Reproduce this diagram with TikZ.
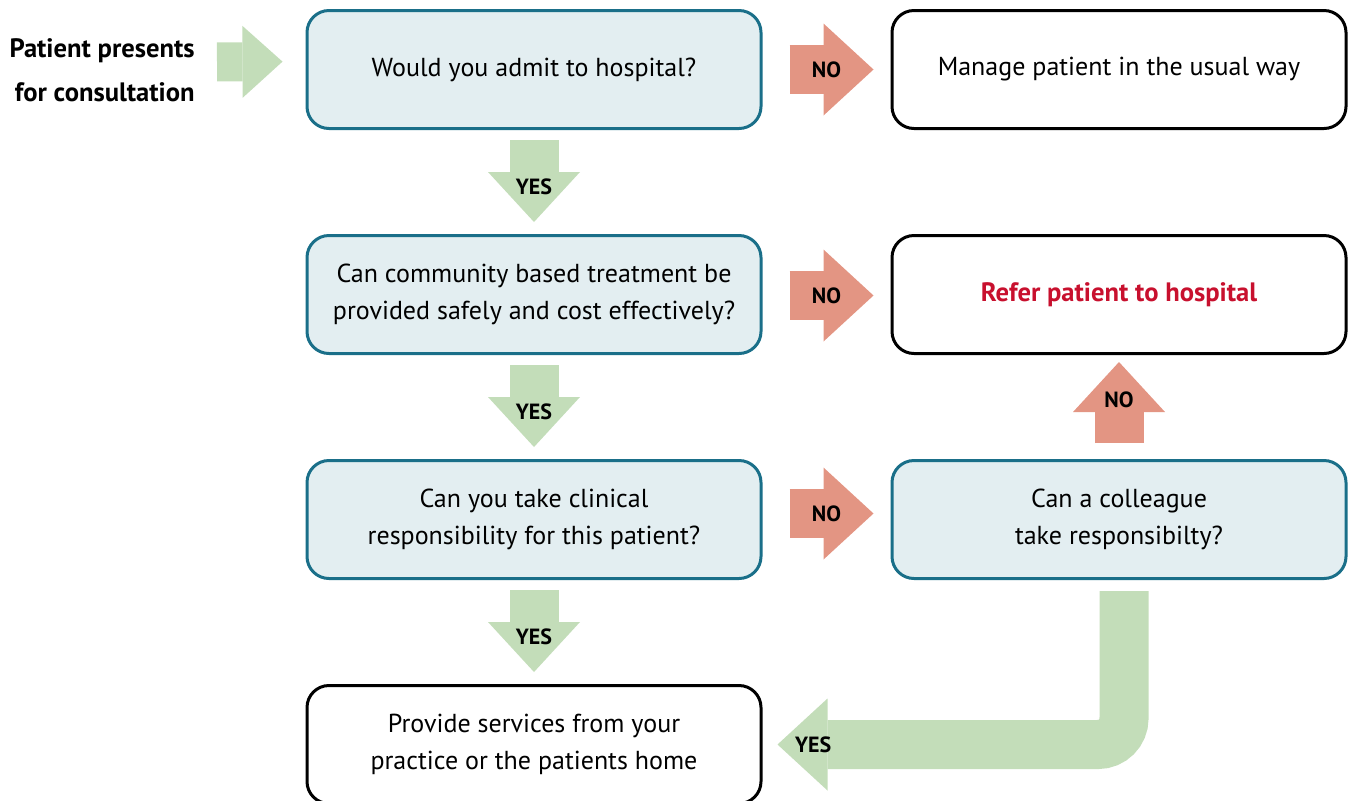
\documentclass[tikz,border=0pt]{standalone}
\usepackage{fontspec}
\setmainfont{PT Sans}
\usetikzlibrary{positioning,arrows.meta}
\definecolor{boxblue}{HTML}{E3EEF1}
\definecolor{boxedge}{HTML}{1A6F89}
\definecolor{yesgreen}{HTML}{C3DDB9}
\definecolor{nored}{HTML}{E39583}
\definecolor{referred}{HTML}{C8102E}
\begin{document}
\begin{tikzpicture}[x=0.5pt, y=-0.5pt,
    box/.style={draw, line width=1.5pt, rounded corners=11pt, minimum width=227pt,
        minimum height=59pt, align=center, font=\fontsize{13}{18.5}\selectfont},
    question/.style={box, draw=boxedge, fill=boxblue},
    answer/.style={box, draw=black, fill=white},
    fat/.style={line width=24.5pt, -{Triangle[width=46pt, length=25pt, line width=0pt]}},
    yes/.style={fat, draw=yesgreen},
    no/.style={fat, draw=nored},
    tag/.style={font=\fontsize{11}{12}\bfseries\selectfont, inner sep=0pt}]

        \useasboundingbox (0,0) rectangle (1354,800);

        % Questions on the left
        \node[question] (q1) at (534,69.5) {Would you admit to hospital?};
        \node[question, below=52pt of q1] (q2) {Can community based treatment be\\provided safely and cost effectively?};
        \node[question, below=52pt of q2] (q3) {Can you take clinical\\responsibility for this patient?};
        \node[answer, below=52pt of q3] (q4) {Provide services from your\\practice or the patients home};

        % Outcomes on the right
        \node[answer, right=64pt of q1] (m1) {Manage patient in the usual way};
        \node[answer, right=64pt of q2, text=referred, font=\fontsize{13.3}{18.5}\bfseries\selectfont] (r2) {Refer patient to hospital};
        \node[question, right=64pt of q3] (c3) {Can a colleague\\take responsibilty?};

        % Start
        \node[anchor=east, align=right, inner sep=0pt, font=\fontsize{13.3}{22}\bfseries\selectfont] (start) at (195,70) {Patient presents\\for consultation};
        \draw[yesgreen, line width=19.5pt, -{Triangle[width=36pt, length=20pt, line width=0pt]},
            shorten <=11pt, shorten >=11.5pt] ([yshift=4pt]start.east) -- ([yshift=4pt]q1.west);

        % YES arrows
        \draw[yes, shorten <=5pt, shorten >=6pt] (q1) -- node[tag, pos=0.55] {YES} (q2);
        \draw[yes, shorten <=5pt, shorten >=6pt] (q2) -- node[tag, pos=0.55] {YES} (q3);
        \draw[yes, shorten <=5pt, shorten >=6pt] (q3) -- node[tag, pos=0.55] {YES} (q4);
        \draw[yes, rounded corners=13pt, shorten <=5.5pt, shorten >=7.5pt]
            ([xshift=2.5pt]c3.south) |- node[tag, pos=0.93] {YES} (q4.east);

        % NO arrows
        \draw[no, shorten <=13.5pt, shorten >=8.5pt] (q1) -- node[tag] {NO} (m1);
        \draw[no, shorten <=13.5pt, shorten >=8.5pt] ([yshift=-0.5pt]q2.east) -- node[tag] {NO} ([yshift=-0.5pt]r2.west);
        \draw[no, shorten <=13.5pt, shorten >=8.5pt] ([yshift=3pt]q3.east) -- node[tag] {NO} ([yshift=3pt]c3.west);
        \draw[no, shorten <=8pt, shorten >=3.5pt] (c3) -- node[tag, pos=0.57] {NO} (r2);
    \end{tikzpicture}
\end{document}
